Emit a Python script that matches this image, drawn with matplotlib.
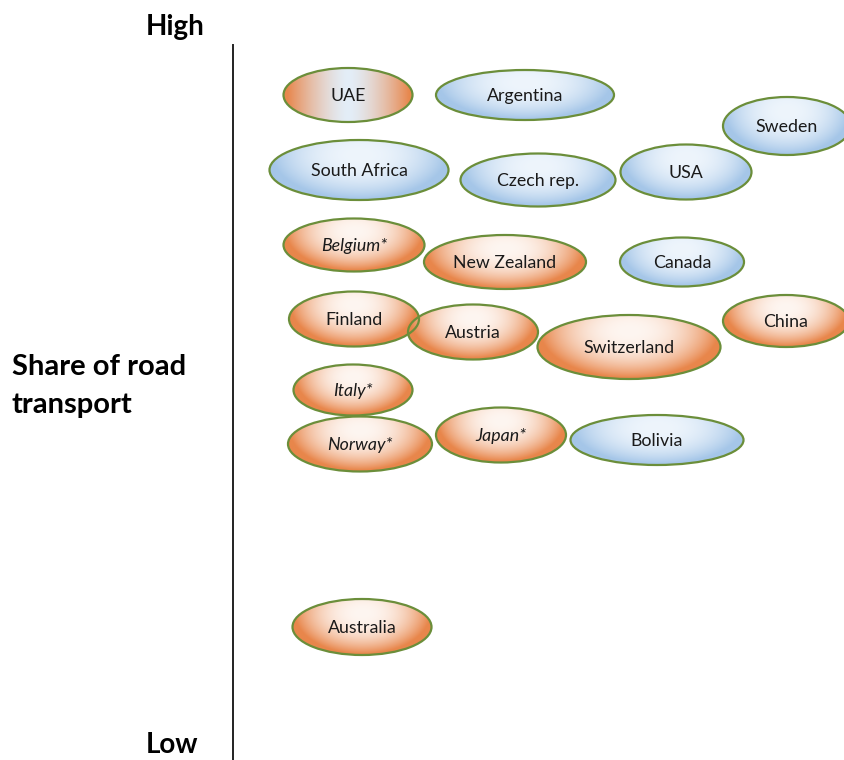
import numpy as np
import matplotlib
matplotlib.use("Agg")
import matplotlib.pyplot as plt
from matplotlib.patches import Ellipse
from matplotlib.colors import to_rgb

plt.rcParams['font.family'] = ['Lato', 'DejaVu Sans']

# Country bubbles: horizontal placement, share of road transport (vertical), bubble size
countries = ["UAE", "Argentina", "Sweden", "South Africa", "Czech rep.", "USA",
             "Belgium*", "New Zealand", "Canada", "Finland", "Austria", "Switzerland",
             "China", "Italy*", "Norway*", "Japan*", "Bolivia", "Australia"]
x_pos = [348, 525, 787, 359, 538, 686, 354, 505, 682, 354, 473, 629, 786, 353, 360, 501, 657, 362]
share = [665, 665, 634, 590, 580, 588, 515, 498, 498, 441, 428, 413, 439, 370, 316, 325, 320, 133]
widths = [129, 178, 128, 179, 155, 131, 141, 162, 124, 130, 130, 183, 126, 119, 144, 130, 173, 139]
heights = [54, 50, 58, 60, 53, 55, 53, 54, 49, 55, 55, 64, 52, 51, 55, 55, 50, 56]
group = ["mixed", "blue", "blue", "blue", "blue", "blue", "orange", "orange", "blue",
         "orange", "orange", "orange", "orange", "orange", "orange", "orange", "blue", "orange"]
italic = [False, False, False, False, False, False, True, False, False, False, False,
          False, False, True, True, True, False, False]

palette = {
    "orange": ("#FEF6F1", "#E8864B"),
    "blue": ("#EEF5FC", "#A5C6E8"),
    "mixed": ("#E3EEF8", "#E8874D"),
}
outline = "#6B8E3A"

fig = plt.figure(figsize=(8.44, 7.6), dpi=100)
ax = fig.add_axes([0, 0, 1, 1])
ax.set_xlim(0, 844)
ax.set_ylim(0, 760)
ax.axis("off")

n = 120
gx, gy = np.meshgrid(np.linspace(-1, 1, n), np.linspace(-1, 1, n))

for name, cx, cy, w, h, g, it in zip(countries, x_pos, share, widths, heights, group, italic):
    c_in, c_out = (np.array(to_rgb(c)) for c in palette[g])
    if g == "mixed":
        r = np.clip(np.abs(gx) * 1.05, 0, 1)
        f = r ** 1.5
    else:
        r = np.sqrt(gx ** 2 + ((gy - 0.5) / 1.5) ** 2)
        r = np.clip(r * 1.02, 0, 1)
        f = r ** 2.3
    img = c_in[None, None, :] * (1 - f[..., None]) + c_out[None, None, :] * f[..., None]
    ell = Ellipse((cx, cy), w, h, facecolor="none", edgecolor="none")
    ax.add_patch(ell)
    im = ax.imshow(img, extent=(cx - w / 2, cx + w / 2, cy - h / 2, cy + h / 2),
                   origin="lower", interpolation="bilinear", zorder=2)
    im.set_clip_path(ell)
    ax.add_patch(Ellipse((cx, cy), w, h, facecolor="none", edgecolor=outline,
                         linewidth=1.6, zorder=3))
    ax.text(cx, cy - 1, name, ha="center", va="center", fontsize=12.8,
            style="italic" if it else "normal", color="#1A1A1A", zorder=4)

# Vertical axis
ax.plot([233, 233], [0, 715], color="#222222", linewidth=1.4, zorder=1)
ax.set_aspect("auto")

ax.text(175, 733, "High", ha="center", va="center", fontsize=20, fontweight="bold")
ax.text(172, 15, "Low", ha="center", va="center", fontsize=20, fontweight="bold")
ax.text(12, 374, "Share of road\ntransport", ha="left", va="center", fontsize=21,
        fontweight="bold", linespacing=1.55)

fig.savefig("out.png", dpi=100)
